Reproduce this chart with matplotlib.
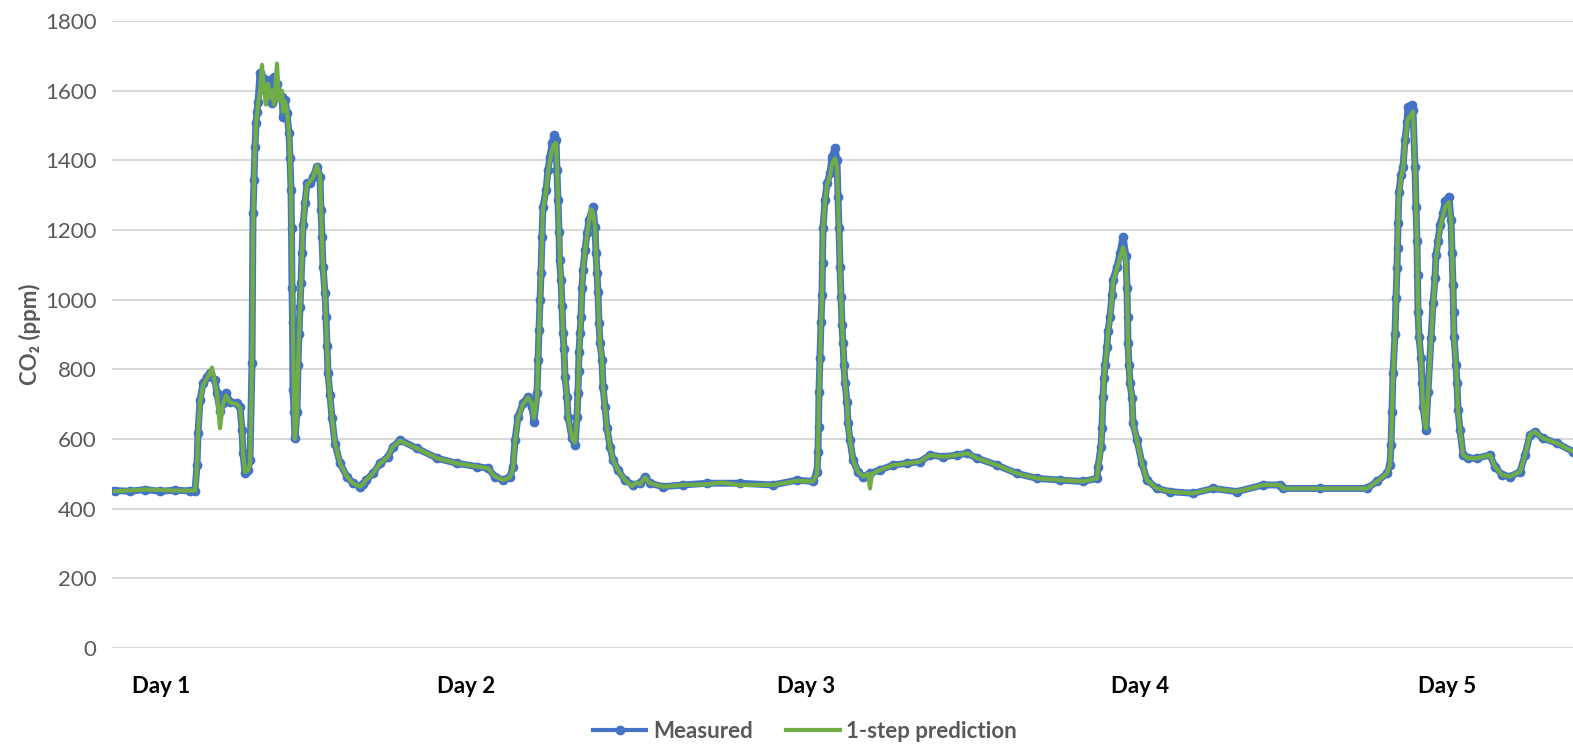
import matplotlib.pyplot as plt

plt.rcParams['font.family'] = ['Lato', 'DejaVu Sans']

# sample index (5-min steps) and measured CO2 (ppm)
meas_t = [3, 18, 33, 48, 63, 78, 83, 85, 86, 88, 91, 95, 98, 103, 105, 108, 111, 114, 118, 125,
          128, 130, 131, 133, 136, 138, 140, 141, 142, 143, 144, 145, 146, 148, 151, 154, 156, 158, 160, 162,
          165, 167, 170, 171, 173, 175, 177, 178, 179, 179.5, 180, 180.5, 181, 182, 183, 185, 186, 187, 188, 189,
          190, 191, 193, 195, 198, 201, 205, 208, 209, 210, 211, 213, 214, 215, 216, 218, 220, 223, 228, 235,
          241, 248, 251, 254, 261, 268, 276, 281, 288, 305, 325, 345, 365, 376, 383, 391, 398, 401, 403, 406,
          411, 416, 420, 422, 425, 426, 427, 428, 429, 430, 431, 434, 436, 438, 440, 442, 444, 445, 446, 447,
          447.5, 449, 450, 451, 452, 453, 455, 456, 460, 463, 465, 466, 466.5, 467, 468, 469, 470, 471, 473, 475,
          477, 481, 483, 484, 485, 486, 487, 488, 490, 491, 493, 495, 498, 501, 506, 513, 521, 528, 533, 538,
          551, 571, 595, 628, 661, 685, 701, 705, 706, 706.5, 707, 708, 709, 710, 710.5, 711, 713, 715, 718, 720,
          723, 725, 726, 727, 728, 729, 730, 731, 732, 733, 735, 736, 738, 741, 746, 751, 758, 768, 781, 795,
          808, 818, 831, 845, 855, 865, 885, 905, 925, 948, 971, 985, 986, 989, 990, 991, 992, 993, 995, 996,
          998, 1000, 1001, 1005, 1008, 1011, 1014, 1015, 1015.5, 1016, 1017, 1018, 1020, 1021, 1025, 1030, 1035, 1045, 1058, 1081,
          1101, 1125, 1151, 1168, 1171, 1208, 1255, 1265, 1275, 1278, 1279, 1280, 1281, 1283, 1284, 1285, 1285.5, 1286, 1287, 1289,
          1291, 1293, 1295, 1296, 1300, 1301, 1303, 1304, 1305, 1305.5, 1306, 1307, 1309, 1310, 1311, 1314, 1316, 1319, 1321, 1323,
          1324, 1326, 1328, 1331, 1333, 1337, 1339, 1340, 1341, 1341.5, 1342, 1344, 1345, 1346, 1348, 1351, 1356, 1365, 1378, 1383,
          1390, 1398, 1408, 1413, 1418, 1423, 1431, 1445, 1461, 1473]
meas_co2 = [452, 450, 455, 450, 453, 451, 452, 525, 616, 712, 760, 779, 790, 769, 731, 680, 702, 731, 707, 702,
            693, 626, 559, 501, 511, 540, 817, 1248, 1343, 1439, 1506, 1540, 1568, 1650, 1635, 1600, 1583, 1630, 1564, 1640,
            1620, 1583, 1583, 1525, 1573, 1535, 1478, 1406, 1315, 1205, 1033, 937, 741, 678, 602, 678, 812, 902, 979, 1047,
            1133, 1214, 1277, 1334, 1334, 1353, 1382, 1353, 1257, 1181, 1095, 1018, 951, 866, 789, 726, 659, 587, 530, 492,
            473, 463, 470, 482, 501, 530, 549, 578, 597, 573, 545, 530, 521, 516, 492, 482, 492, 521, 597, 664,
            702, 722, 693, 650, 731, 827, 913, 998, 1076, 1181, 1267, 1315, 1372, 1410, 1449, 1473, 1458, 1372, 1286, 1195,
            1115, 1057, 981, 905, 857, 779, 722, 664, 602, 583, 664, 731, 794, 851, 903, 951, 1033, 1086, 1143, 1190,
            1229, 1267, 1209, 1133, 1076, 1022, 932, 875, 827, 750, 693, 631, 578, 540, 511, 482, 468, 473, 492, 473,
            463, 468, 473, 473, 468, 482, 478, 506, 564, 635, 736, 832, 937, 1013, 1104, 1205, 1286, 1334, 1363, 1410,
            1434, 1401, 1296, 1205, 1095, 1009, 927, 875, 812, 760, 707, 645, 597, 540, 506, 492, 501, 511, 525, 530,
            535, 554, 549, 554, 559, 545, 525, 501, 487, 482, 478, 487, 521, 578, 631, 722, 775, 812, 865, 911,
            951, 1013, 1057, 1095, 1133, 1181, 1124, 1033, 951, 875, 812, 760, 717, 645, 597, 530, 482, 458, 449, 444,
            458, 449, 468, 468, 458, 458, 458, 478, 501, 525, 583, 678, 789, 902, 1004, 1090, 1147, 1219, 1310, 1358,
            1382, 1458, 1511, 1554, 1559, 1545, 1382, 1267, 1167, 1071, 966, 894, 832, 760, 693, 625, 736, 889, 989, 1061,
            1128, 1167, 1214, 1248, 1282, 1296, 1230, 1133, 1042, 964, 894, 812, 760, 684, 626, 554, 545, 545, 554, 521,
            497, 492, 506, 554, 612, 621, 602, 588, 564, 555]

# 1-step prediction
pred_t = [3, 33, 63, 83, 85, 86, 88, 91, 95, 98, 100, 103, 105, 108, 111, 114, 118, 125, 128, 130,
          131, 133, 136, 138, 140, 141, 142, 143, 144, 145, 146, 148, 150, 152, 154, 156, 158, 160, 162, 165,
          167, 170, 171, 173, 175, 177, 178, 179, 180, 181, 182, 183, 185, 186, 187, 188, 189, 190, 191, 193,
          195, 198, 201, 205, 208, 209, 210, 211, 213, 214, 215, 216, 218, 220, 223, 228, 235, 241, 248, 251,
          254, 261, 268, 276, 281, 288, 305, 325, 345, 365, 376, 383, 391, 398, 401, 403, 406, 411, 416, 420,
          422, 425, 426, 427, 428, 429, 430, 431, 434, 436, 438, 440, 442, 444, 445, 446, 447, 448, 449, 450,
          451, 452, 453, 455, 456, 460, 463, 465, 466, 467, 468, 469, 470, 471, 473, 475, 477, 479, 481, 483,
          484, 485, 486, 487, 488, 490, 491, 493, 495, 498, 501, 506, 513, 520, 524, 528, 533, 538, 551, 571,
          595, 610, 628, 661, 685, 701, 705, 706, 707, 708, 709, 710, 711, 713, 715, 718, 720, 723, 725, 726,
          727, 728, 729, 730, 731, 732, 733, 735, 736, 738, 741, 746, 751, 756, 758, 760, 768, 781, 795, 808,
          818, 831, 845, 855, 865, 885, 905, 925, 948, 971, 985, 986, 989, 990, 991, 992, 993, 995, 996, 998,
          1000, 1001, 1005, 1008, 1011, 1013, 1014, 1015, 1016, 1017, 1018, 1020, 1021, 1025, 1030, 1035, 1045, 1058, 1081, 1101,
          1125, 1151, 1168, 1171, 1208, 1255, 1265, 1275, 1278, 1279, 1280, 1281, 1283, 1284, 1285, 1286, 1287, 1289, 1291, 1293,
          1295, 1296, 1299, 1301, 1303, 1304, 1305, 1306, 1307, 1309, 1310, 1311, 1313, 1314, 1316, 1319, 1321, 1323, 1324, 1326,
          1328, 1331, 1333, 1337, 1339, 1340, 1341, 1342, 1344, 1345, 1346, 1348, 1351, 1356, 1365, 1378, 1383, 1390, 1398, 1408,
          1413, 1418, 1423, 1431, 1445, 1461, 1473]
pred_co2 = [450, 455, 452, 452, 520, 610, 705, 755, 775, 790, 805, 760, 730, 631, 700, 725, 705, 700, 690, 630,
            560, 505, 510, 530, 800, 1200, 1330, 1430, 1500, 1530, 1560, 1600, 1674, 1600, 1560, 1620, 1580, 1600, 1560, 1678,
            1570, 1600, 1540, 1570, 1540, 1480, 1410, 1300, 1100, 900, 700, 600, 670, 800, 900, 975, 1040, 1130, 1210, 1280,
            1330, 1340, 1350, 1385, 1355, 1260, 1180, 1095, 1015, 950, 865, 790, 725, 660, 590, 530, 492, 473, 463, 470,
            482, 501, 530, 549, 578, 595, 573, 545, 530, 521, 516, 492, 482, 490, 515, 590, 660, 700, 720, 700,
            660, 720, 820, 905, 990, 1070, 1170, 1260, 1310, 1365, 1400, 1430, 1445, 1450, 1380, 1290, 1200, 1110, 1057, 981,
            905, 857, 779, 722, 664, 602, 590, 660, 725, 840, 900, 945, 1025, 1080, 1140, 1185, 1225, 1260, 1250, 1210,
            1135, 1076, 1022, 932, 875, 827, 750, 693, 631, 578, 540, 511, 482, 465, 475, 470, 490, 473, 463, 468,
            470, 475, 468, 468, 480, 478, 500, 560, 730, 830, 930, 1010, 1200, 1280, 1330, 1355, 1390, 1405, 1380, 1296,
            1205, 1095, 1009, 927, 875, 812, 760, 707, 645, 597, 540, 506, 492, 500, 458, 500, 511, 525, 530, 535,
            554, 549, 554, 559, 545, 525, 501, 487, 482, 478, 487, 515, 575, 625, 715, 770, 810, 860, 905, 945,
            1005, 1050, 1090, 1120, 1150, 1130, 1100, 1030, 875, 812, 760, 717, 645, 597, 530, 482, 458, 449, 444, 458,
            449, 468, 468, 458, 458, 458, 478, 501, 525, 580, 670, 780, 895, 1000, 1085, 1210, 1300, 1350, 1375, 1450,
            1500, 1520, 1530, 1540, 1382, 1267, 1167, 1000, 894, 832, 760, 693, 640, 630, 730, 880, 980, 1055, 1120, 1160,
            1205, 1240, 1265, 1280, 1230, 1133, 1042, 894, 812, 760, 684, 626, 554, 545, 545, 554, 521, 497, 492, 506,
            554, 612, 621, 602, 588, 564, 555]

day_pos = [49, 354, 694, 1028, 1335]
day_labels = ['Day 1', 'Day 2', 'Day 3', 'Day 4', 'Day 5']
y_ticks = list(range(0, 2000, 200))

blue = '#4472C4'
green = '#70AD47'
grey = '#595959'

fig = plt.figure(figsize=(15.73, 7.47), dpi=100)
ax = fig.add_axes([112/1573, 1 - 648/747, 1 - 112/1573, (648 - 21)/747])

ax.plot(meas_t, meas_co2, color=blue, lw=5, marker='o', ms=6, mec=blue, mfc=blue,
        solid_joinstyle='round', label='Measured', zorder=3)
ax.plot(pred_t, pred_co2, color=green, lw=3, solid_joinstyle='round',
        label='1-step prediction', zorder=4)

ax.set_xlim(0, 1461)
ax.set_ylim(0, 1800)
ax.set_yticks(y_ticks)
ax.set_xticks(day_pos)
ax.set_xticklabels(day_labels, fontsize=16, fontweight='bold', color='black')
ax.tick_params(axis='y', length=0, pad=11, labelsize=16, labelcolor=grey)
ax.tick_params(axis='x', length=0, pad=20)
ax.grid(axis='y', color='#D9D9D9', lw=1.5)
ax.set_axisbelow(True)
for s in ax.spines.values():
    s.set_visible(False)

ax.set_ylabel('CO₂ (ppm)', fontsize=16, fontweight='bold', color=grey, labelpad=3)

leg = fig.legend(loc='center', bbox_to_anchor=(805/1573, 1 - 731/747), ncol=2, frameon=False,
                 handlelength=2.4, columnspacing=1.5, handletextpad=0.3,
                 prop={'size': 16, 'weight': 'bold'})
for t in leg.get_texts():
    t.set_color(grey)
for h in leg.legend_handles:
    h.set_linewidth(3)

fig.savefig('out.png', dpi=100)
